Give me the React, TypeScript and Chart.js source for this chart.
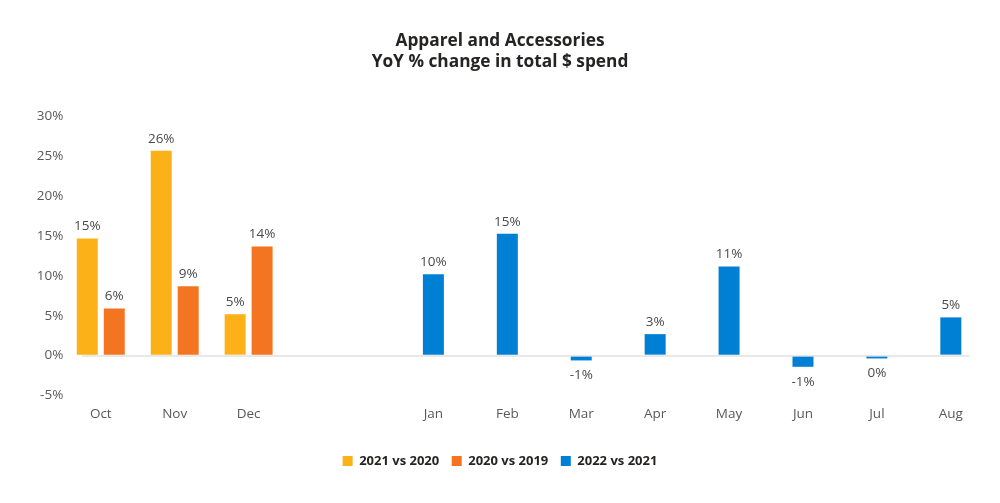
import React, { useEffect, useRef } from "react";
import { Chart, registerables } from "chart.js";

Chart.register(...registerables);

// Tick labels on the category axis (blank entries are empty category slots)
const xTickLabels = [
  "Oct", "", "Nov", "", "Dec", "", "", "", "",
  "Jan", "", "Feb", "", "Mar", "", "Apr", "", "May", "", "Jun", "", "Jul", "", "Aug",
];

const monthsA = ["Oct", "Nov", "Dec"];
const values2021vs2020 = [14.7, 25.7, 5.2];
const values2020vs2019 = [5.9, 8.7, 13.7];

const monthsB = ["Jan", "Feb", "Mar", "Apr", "May", "Jun", "Jul", "Aug"];
const values2022vs2021 = [10.2, 15.3, -0.6, 2.7, 11.2, -1.4, -0.35, 4.8];

const seriesNames = ["2021 vs 2020", "2020 vs 2019", "2022 vs 2021"];
const seriesColors = ["#FBB117", "#F37521", "#0080D5"];

const yTicks = { min: -5, max: 30, step: 5 };

const FONT = "'Open Sans', 'Noto Sans', sans-serif";

function alignToTicks(months: string[], values: number[]) {
  return xTickLabels.map((l) => {
    const i = months.indexOf(l);
    return l !== "" && i >= 0 ? values[i] : null;
  });
}

const dataLabelPlugin = {
  id: "dataLabels",
  afterDatasetsDraw(chart: any) {
    const ctx = chart.ctx;
    ctx.save();
    ctx.font = `13.5px ${FONT}`;
    ctx.fillStyle = "#4A4A4A";
    ctx.textAlign = "center";
    ctx.textBaseline = "middle";
    chart.data.datasets.forEach((ds: any, i: number) => {
      const meta = chart.getDatasetMeta(i);
      meta.data.forEach((bar: any, j: number) => {
        const v = ds.data[j];
        if (v === null || v === undefined) return;
        const txt = `${Math.round(v) || 0}%`;
        const y = v >= 0 ? bar.y - 12 : bar.y + 15;
        ctx.fillText(txt, bar.x, y);
      });
    });
    ctx.restore();
  },
};

export default function App() {
  const canvasRef = useRef<HTMLCanvasElement | null>(null);

  useEffect(() => {
    if (!canvasRef.current) return;
    const common = {
      skipNull: true,
      categoryPercentage: 1.46,
      barPercentage: 0.78,
      maxBarThickness: 21,
      clip: false as any,
    };
    const chart = new Chart(canvasRef.current, {
      type: "bar",
      data: {
        labels: xTickLabels,
        datasets: [
          { label: seriesNames[0], data: alignToTicks(monthsA, values2021vs2020), backgroundColor: seriesColors[0], ...common },
          { label: seriesNames[1], data: alignToTicks(monthsA, values2020vs2019), backgroundColor: seriesColors[1], ...common },
          { label: seriesNames[2], data: alignToTicks(monthsB, values2022vs2021), backgroundColor: seriesColors[2], ...common },
        ] as any,
      },
      options: {
        responsive: false,
        animation: false,
        devicePixelRatio: 1,
        layout: { padding: { top: 0, left: 0, right: 0, bottom: 25.5 } },
        plugins: {
          tooltip: { enabled: false },
          title: {
            display: true,
            text: ["Apparel and Accessories", "YoY % change in total $ spend"],
            color: "#252423",
            font: { family: FONT, size: 17.3, weight: "bold", lineHeight: 1.215 },
            padding: { top: 31, bottom: 43.5 },
          },
          legend: {
            position: "bottom",
            labels: {
              boxWidth: 10,
              boxHeight: 10,
              padding: 12.5,
              color: "#252423",
              font: { family: FONT, size: 13, weight: "bold" },
            },
          },
        },
        scales: {
          x: {
            type: "category",
            offset: true,
            grid: { display: false },
            border: { display: false },
            ticks: {
              autoSkip: false,
              maxRotation: 0,
              minRotation: 0,
              padding: 3,
              color: "#595959",
              font: { family: FONT, size: 13.5 },
            },
            afterFit(s: any) {
              s.height = 46.5;
            },
          },
          y: {
            min: yTicks.min,
            max: yTicks.max,
            border: { display: false },
            grid: {
              drawTicks: false,
              lineWidth: 2,
              color: (c: any) => (c.tick && c.tick.value === 0 ? "#E8E8E8" : "rgba(0,0,0,0)"),
            },
            ticks: {
              stepSize: yTicks.step,
              padding: 19,
              color: "#595959",
              font: { family: FONT, size: 13.5 },
              callback: (v: any) => `${v}%`,
            },
            afterFit(s: any) {
              s.width = 82.3;
            },
          },
          yRight: {
            position: "right",
            display: true,
            grid: { display: false },
            border: { display: false },
            ticks: { display: false },
            afterFit(s: any) {
              s.width = 30.7;
            },
          },
        },
      } as any,
      plugins: [dataLabelPlugin],
    });
    return () => chart.destroy();
  }, []);

  return (
    <div style={{ position: "fixed", left: 0, top: 0, width: 1000, height: 503, background: "#fff" }}>
      <canvas ref={canvasRef} width={1000} height={503} />
    </div>
  );
}
